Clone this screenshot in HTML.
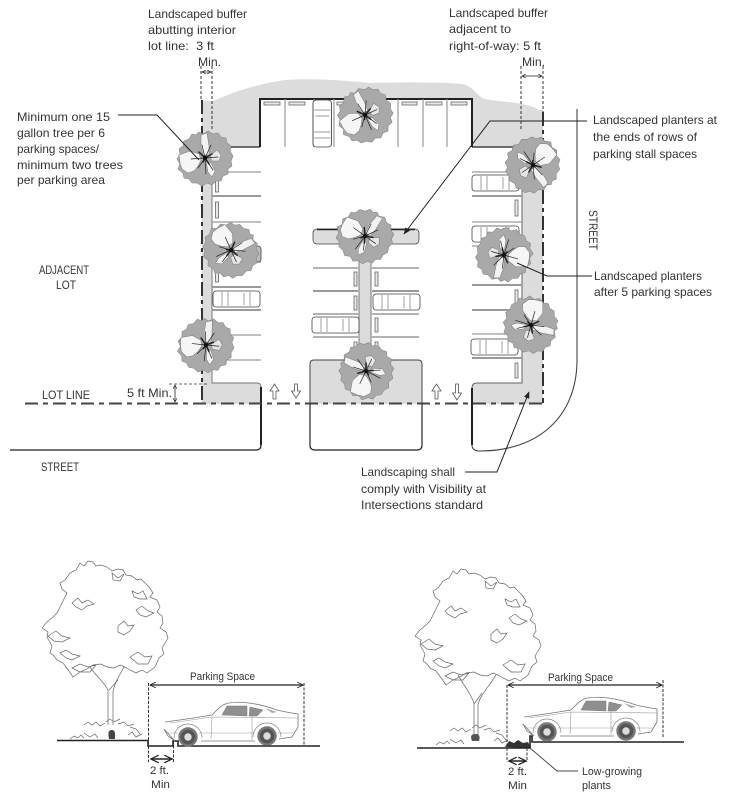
<!DOCTYPE html>
<html><head><meta charset="utf-8"><style>
html,body{margin:0;padding:0;background:#fff}
svg{display:block;filter:blur(.3px)}
text{font-family:"Liberation Sans",sans-serif;font-size:12px;fill:#333}
</style></head><body>
<svg width="731" height="803" viewBox="0 0 731 803" xmlns="http://www.w3.org/2000/svg">
<defs>
<marker id="ah" viewBox="0 0 10 10" refX="9" refY="5" markerWidth="7" markerHeight="7" orient="auto-start-reverse"><path d="M0 1L10 5L0 9Z" fill="#222"/></marker>
<marker id="oa" viewBox="0 0 10 10" refX="9" refY="5" markerWidth="6" markerHeight="6" orient="auto-start-reverse"><path d="M1 1L9 5L1 9" fill="none" stroke="#222" stroke-width="1.3"/></marker>
<g id="tree">
<path d="M-6-26L-2-24L3-27L8-24L13-25L16-21L21-20L22-15L26-12L25-7L28-2L26 3L27 8L23 11L23 16L18 18L16 23L11 23L7 27L2 25L-3 28L-8 25L-13 25L-16 21L-21 20L-22 15L-27 11L-25 6L-28 1L-25-4L-26-9L-22-12L-21-17L-16-19L-13-24L-9-23Z" fill="#a9a9a9" stroke="#888" stroke-width=".6"/>
<path d="M-26-3L-15-7L-6-4L-4 2L-7 8L-11 13L-17 15L-23 11L-25 5Z" fill="#f6f6f6" stroke="#777" stroke-width=".5"/>
<path d="M-4-23L2-25L4-12L4-3L-2-3L-4-12Z" fill="#f2f2f2" stroke="#777" stroke-width=".5"/>
<path d="M5-2L12-8L16-3L14 3L7 3Z" fill="#e6e6e6" stroke="#777" stroke-width=".5"/>
<path d="M1 3L6 5L10 13L7 19L3 14Z" fill="#f4f4f4" stroke="#777" stroke-width=".5"/>
<g fill="none" stroke="#222" stroke-linecap="round">
<path d="M-6-6L0 0L7-4M-2 4L0 0L4 6" stroke-width="1.5"/>
<path d="M0 0L-3-13M0 0L6-13M0 0L13-1M0 0L-14 1M0 0L-7 10M0 0L8 12M0 0L1 16" stroke-width=".7"/>
</g>
<circle r="2.2" fill="#111"/>
</g>
<g id="carh" fill="#fff" stroke="#444" stroke-width=".8">
<rect x="0" y="0" width="47" height="16" rx="3"/>
<path d="M9 1V15M15 1V15M31 2V14M37 1V15" fill="none" stroke="#777" stroke-width=".7"/>
</g>
<g id="crown" fill="none" stroke="#666" stroke-width=".7">
<path d="M80 563L84 566L88 561L93 562L96 566L101 565L107 567L112 571L118 569L123 570L126 575L132 576L137 580L141 579L145 583L149 587L153 593L150 597L157 600L160 607L157 612L162 616L163 623L160 628L166 632L168 638L165 643L162 648L164 654L159 658L155 667L151 670L147 673L142 670L136 673L130 670L125 667L120 665L114 668L107 667L101 664L93 665L87 669L80 672L73 677L69 671L63 663L57 660L54 656L50 653L52 646L47 637L48 632L42 628L47 622L53 617L57 613L60 607L63 601L67 593L62 589L60 583L65 580L70 573L76 570Z"/>
<path d="M72 603L78 598L82 603L88 600L94 604L87 606L82 610L76 607ZM112 573L118 578L124 574L120 581L113 580ZM132 591L138 594L143 591L147 599L140 599L134 597ZM136 610L142 606L148 611L154 613L146 617L140 615ZM118 626L124 621L128 626L134 625L130 631L124 635L118 632ZM48 636L56 631L62 636L70 638L62 642L54 641ZM60 653L66 650L72 654L80 656L72 660L66 658ZM72 668L80 664L88 667L96 665L90 672L80 672ZM130 657L138 652L145 657L152 656L148 664L138 664Z"/>
</g>
<g id="car">
<path d="M165 722C180 720 200 717 212 715C218 709 222 704 229 703C240 701 258 703 277 710C285 712 292 713 298 714L298 727L292 737L279 739M255 741H201M175 741L168 736L164 729Z" fill="none" stroke="#777" stroke-width=".8"/>
<path d="M170 723L212 717L298 718M212 717L211 739M168 733L178 733M199 733H255M252 716V740M278 733H294" fill="none" stroke="#999" stroke-width=".6"/>
<path d="M222 715L227 706L247 706L247 716ZM249 716L250 707L263 710L257 716Z" fill="#8f8f8f" stroke="#777" stroke-width=".5"/>
<path d="M265 708L277 712L272 713Z" fill="#aaa"/>
<path d="M174 738A14 14 0 0 1 202 738M253 737A14 14 0 0 1 281 737" fill="none" stroke="#888" stroke-width=".7"/>
<circle cx="188" cy="737" r="8.500" fill="#555" stroke="#777" stroke-width="2.400"/><circle cx="188" cy="737" r="3.700" fill="#ddd"/>
<circle cx="267" cy="736" r="8.500" fill="#555" stroke="#777" stroke-width="2.400"/><circle cx="267" cy="736" r="3.700" fill="#ddd"/>
</g>
<g id="shrubs" fill="none" stroke="#666" stroke-width=".7">
<path d="M70 739L74 736L78 738L81 735L84 738M84 733L90 737L95 734L98 738M84 725L88 722L92 725L96 722L100 726L105 723M106 722L110 719L114 722L120 719M118 724L124 722L128 726L134 724M128 735L132 732L136 737L142 734M130 727L136 729L140 734"/>
</g>
</defs>
<rect width="731" height="803" fill="#fff"/>

<!-- gray planting areas -->
<path d="M202 101L213 101L235 92C255 86 265 83 285 80C310 78 340 80 370 83C400 82 440 82 462 84C472 86 475 92 482 98C495 103 530 100 543 113L543 147H472V99H260V147H202Z" fill="#dcdcdc"/>
<rect x="202" y="110" width="10" height="294" fill="#dcdcdc"/>
<rect x="522" y="110" width="21" height="294" fill="#dcdcdc"/>
<path d="M202 383H257Q261 383 261 387V404H202Z" fill="#dcdcdc"/>
<path d="M522 147V383H477Q472 383 472 388V404H543V147Z" fill="#dcdcdc"/>
<path d="M314 360H418Q422 360 422 364V404H310V364Q310 360 314 360Z" fill="#dcdcdc"/>
<rect x="359" y="243" width="12" height="120" fill="#dcdcdc"/>
<rect x="313" y="229" width="106" height="15" rx="4" fill="#dcdcdc" stroke="#444" stroke-width=".8"/>
<path d="M317 229.500H415" stroke="#222" stroke-width="1.600"/>
<path d="M359 243V360M371 243V360" stroke="#777" stroke-width="1"/>

<!-- boundary lines -->
<path d="M260 147V99H472V147" fill="none" stroke="#222" stroke-width="2"/>
<path d="M229 147H260M472 147H515" stroke="#222" stroke-width="1.200"/>
<path d="M212 147V383H257Q261 383 261 387" fill="none" stroke="#777" stroke-width="1"/>
<path d="M522 147V383H477Q472 383 472 388" fill="none" stroke="#666" stroke-width="1"/>
<path d="M310 404V364Q310 360 314 360H418Q422 360 422 364V404" fill="none" stroke="#444" stroke-width="1"/>
<path d="M261 387V445" stroke="#222" stroke-width="2"/>
<path d="M472 388V445" stroke="#222" stroke-width="2"/>
<path d="M310 404V445Q310 450 315 450H417Q422 450 422 445V404" fill="none" stroke="#222" stroke-width="1.200"/>
<path d="M10 450H256Q261 450 261 445" fill="none" stroke="#222" stroke-width="1.200"/>
<path d="M472 445Q472 451 480 451C540 451 577 415 577 360V109" fill="none" stroke="#444" stroke-width="1.100"/>

<!-- lot line / buffer lines -->
<path d="M25 403.500H543" stroke="#444" stroke-width="2" stroke-dasharray="13 5 5 5"/>
<path d="M202 100V403" stroke="#333" stroke-width="2" stroke-dasharray="14 4 4 4"/>
<path d="M543 112V403" stroke="#333" stroke-width="2" stroke-dasharray="14 4 4 4"/>
<path d="M201 66V100M212 66V130M521 66V130M543 66V112" stroke="#333" stroke-width="1" stroke-dasharray="3 2" fill="none"/>
<path d="M202 72H211" stroke="#222" stroke-width=".8" marker-start="url(#oa)" marker-end="url(#oa)"/>
<path d="M522 76H542" stroke="#222" stroke-width=".8" marker-start="url(#oa)" marker-end="url(#oa)"/>

<!-- stall lines -->
<g stroke="#9a9a9a" fill="none">
<path d="M285 99V147M314 99V147M334 99V147M398 99V147M423 99V147M447 99V147" stroke-width="1.200"/>
<path d="M212 172H261M212 222H261M212 262H261M212 335H261M212 360H261" stroke-width="1.200"/>
<path d="M212 196H261M212 287H261M212 310H261" stroke-width="2"/>
<path d="M313 268H358M372 268H419M313 314H358M372 314H419M313 337H358M372 337H419" stroke-width="1.400"/>
<path d="M313 291H358M372 291H419" stroke-width="2"/>
<path d="M472 172H522M472 222H522M472 246H522M472 334H522" stroke-width="1.200"/>
<path d="M472 196H522M472 285H522M472 310H522M472 358H522" stroke-width="2"/>
</g>
<!-- wheel stops -->
<g fill="#e8e8e8" stroke="#666" stroke-width=".8">
<rect x="264" y="102" width="16" height="3"/><rect x="289" y="102" width="16" height="3"/><rect x="337" y="102" width="16" height="3"/><rect x="402" y="102" width="15" height="3"/><rect x="426" y="102" width="16" height="3"/><rect x="451" y="102" width="16" height="3"/>
<rect x="215.500" y="202" width="3" height="16"/><rect x="215.500" y="178" width="3" height="14"/><rect x="215.500" y="268" width="3" height="14"/><rect x="215.500" y="342" width="3" height="20"/>
<rect x="354" y="272" width="3" height="14"/><rect x="354" y="296" width="3" height="14"/><rect x="354" y="342" width="3" height="14"/>
<rect x="375" y="272" width="3" height="14"/><rect x="375" y="318" width="3" height="14"/><rect x="375" y="342" width="3" height="14"/>
<rect x="515" y="200" width="3" height="16"/><rect x="515" y="290" width="3" height="14"/><rect x="515" y="363" width="3" height="15"/>
</g>
<!-- cars -->
<use href="#carh" transform="translate(313,147) rotate(-90) scale(1,1.150)"/>
<use href="#carh" transform="translate(213,291)"/>
<use href="#carh" x="312" y="317"/>
<use href="#carh" x="373" y="294"/>
<use href="#carh" x="472" y="175"/>
<use href="#carh" x="472" y="226"/>
<use href="#carh" x="471" y="339"/>
<rect x="253" y="246" width="8" height="16" rx="3" fill="#bbb" stroke="#444" stroke-width=".8"/>

<!-- arrows -->
<g fill="#fff" stroke="#555" stroke-width=".8">
<path d="M270 391L274.500 384L279 391H276V399H273V391Z"/>
<path d="M291.500 391L296 398L300.500 391H297.500V384H294.500V391Z"/>
<path d="M432 391L436.500 384L441 391H438V399H435V391Z"/>
<path d="M452.500 393L457 400L461.500 393H458.500V384H455.500V393Z"/>
</g>
<!-- 5ft dim -->
<path d="M169 384H207" stroke="#333" stroke-dasharray="3 2" stroke-width=".8"/>
<path d="M175 385V402" stroke="#222" stroke-width=".8" marker-start="url(#oa)" marker-end="url(#oa)"/>

<!-- trees -->
<use href="#tree" transform="translate(205,158)"/>
<use href="#tree" transform="translate(231,250) rotate(70)"/>
<use href="#tree" transform="translate(206,345) rotate(10)"/>
<use href="#tree" transform="translate(365,115) rotate(-20)"/>
<use href="#tree" transform="translate(365,236) rotate(40)"/>
<use href="#tree" transform="translate(366,371) rotate(-60)"/>
<use href="#tree" transform="translate(533,165) rotate(150)"/>
<use href="#tree" transform="translate(504,255) rotate(200)"/>
<use href="#tree" transform="translate(531,325) rotate(110)"/>

<!-- leaders -->
<g fill="none" stroke="#222" stroke-width="1">
<path d="M118 115H157L199 160"/>
<path d="M587 121H490L404 234" marker-end="url(#ah)"/>
<path d="M592 276H547L517 263"/>
<path d="M465 472H497L529 392" marker-end="url(#ah)"/>
</g>

<!-- lower left -->
<use href="#crown"/>
<path d="M108 725V690C104 682 96 676 90 667M113 725V692C114 684 118 678 124 667M109 690L118 680" fill="none" stroke="#777" stroke-width=".8"/>
<use href="#shrubs"/>
<path d="M109 739C108 733 108 730 112 730C116 730 115 736 115 739Z" fill="#444"/>
<path d="M57 740.500H148V746H173V741H178V746H320" fill="none" stroke="#222" stroke-width="1.600"/>
<path d="M148.500 683V762M173.500 741V762M304 683V746" stroke="#333" stroke-width="1" stroke-dasharray="3 1.500" fill="none"/>
<path d="M150 685H303" stroke="#222" stroke-width="1.200" marker-start="url(#oa)" marker-end="url(#oa)"/>
<path d="M151 759H172" stroke="#222" stroke-width="1.600" marker-start="url(#oa)" marker-end="url(#oa)"/>
<use href="#car"/>

<!-- lower right -->
<use href="#crown" transform="translate(373,8)"/>
<path d="M474 737V703C470 692 464 686 458 675M478 737V705C480 695 488 688 496 675M474 704L482 693" fill="none" stroke="#777" stroke-width=".8"/>
<use href="#shrubs" transform="translate(366,6)"/>
<path d="M472 741C470 736 471 734 476 734C480 734 480 738 479 741Z" fill="#555"/>
<path d="M505 747L509 741L514 743L518 740L523 743L528 742L531 748Z" fill="#333"/>
<path d="M417 748H530V736H532V742H684" fill="none" stroke="#222" stroke-width="1.600"/>
<path d="M507 685V762M527 748V762M663 680V738" stroke="#333" stroke-width="1" stroke-dasharray="3 1.500" fill="none"/>
<path d="M508 685H662" stroke="#222" stroke-width="1.200" marker-start="url(#oa)" marker-end="url(#oa)"/>
<path d="M509 761H526" stroke="#222" stroke-width="1.600" marker-start="url(#oa)" marker-end="url(#oa)"/>
<use href="#car" transform="translate(359,-5)"/>
<path d="M530 748L557 771H578" fill="none" stroke="#444" stroke-width=".9"/>

<!-- text -->
<text x="148" y="18" textLength="99" lengthAdjust="spacingAndGlyphs">Landscaped buffer</text>
<text x="148" y="34" textLength="88" lengthAdjust="spacingAndGlyphs">abutting interior</text>
<text x="148" y="50" textLength="66" lengthAdjust="spacingAndGlyphs" xml:space="preserve">lot line:  3 ft</text>
<text x="198" y="66" textLength="23" lengthAdjust="spacingAndGlyphs">Min.</text>
<text x="449" y="17" textLength="99" lengthAdjust="spacingAndGlyphs">Landscaped buffer</text>
<text x="449" y="33" textLength="62" lengthAdjust="spacingAndGlyphs">adjacent to</text>
<text x="449" y="50" textLength="92" lengthAdjust="spacingAndGlyphs">right-of-way: 5 ft</text>
<text x="522" y="66" textLength="23" lengthAdjust="spacingAndGlyphs">Min.</text>
<text x="17" y="121" textLength="93" lengthAdjust="spacingAndGlyphs">Minimum one 15</text>
<text x="17" y="137" textLength="88" lengthAdjust="spacingAndGlyphs">gallon tree per 6</text>
<text x="17" y="153" textLength="82" lengthAdjust="spacingAndGlyphs">parking spaces/</text>
<text x="17" y="169" textLength="106" lengthAdjust="spacingAndGlyphs">minimum two trees</text>
<text x="17" y="184" textLength="88" lengthAdjust="spacingAndGlyphs">per parking area</text>
<text x="593" y="124" textLength="124" lengthAdjust="spacingAndGlyphs">Landscaped planters at</text>
<text x="593" y="141" textLength="104" lengthAdjust="spacingAndGlyphs">the ends of rows of</text>
<text x="593" y="158" textLength="104" lengthAdjust="spacingAndGlyphs">parking stall spaces</text>
<text x="594" y="280" textLength="108" lengthAdjust="spacingAndGlyphs">Landscaped planters</text>
<text x="594" y="296" textLength="118" lengthAdjust="spacingAndGlyphs">after 5 parking spaces</text>
<text x="39" y="274" textLength="50" lengthAdjust="spacingAndGlyphs">ADJACENT</text>
<text x="56" y="289" textLength="20" lengthAdjust="spacingAndGlyphs">LOT</text>
<text x="42" y="399" textLength="48" lengthAdjust="spacingAndGlyphs">LOT LINE</text>
<text x="127" y="397" textLength="45" lengthAdjust="spacingAndGlyphs">5 ft Min.</text>
<text x="41" y="471" textLength="38" lengthAdjust="spacingAndGlyphs">STREET</text>
<text transform="translate(589,210) rotate(90)" textLength="40" lengthAdjust="spacingAndGlyphs">STREET</text>
<text x="361" y="476" textLength="94" lengthAdjust="spacingAndGlyphs">Landscaping shall</text>
<text x="361" y="493" textLength="125" lengthAdjust="spacingAndGlyphs">comply with Visibility at</text>
<text x="361" y="509" textLength="122" lengthAdjust="spacingAndGlyphs">Intersections standard</text>
<text x="190" y="680" textLength="65" lengthAdjust="spacingAndGlyphs" style="font-size:11px">Parking Space</text>
<text x="150" y="774" textLength="19" lengthAdjust="spacingAndGlyphs" style="font-size:11px">2 ft.</text>
<text x="151" y="788" textLength="19" lengthAdjust="spacingAndGlyphs" style="font-size:11px">Min</text>
<text x="548" y="681" textLength="65" lengthAdjust="spacingAndGlyphs" style="font-size:11px">Parking Space</text>
<text x="508" y="775" textLength="19" lengthAdjust="spacingAndGlyphs" style="font-size:11px">2 ft.</text>
<text x="508" y="789" textLength="19" lengthAdjust="spacingAndGlyphs" style="font-size:11px">Min</text>
<text x="582" y="775" textLength="60" lengthAdjust="spacingAndGlyphs" style="font-size:11px">Low-growing</text>
<text x="582" y="789" textLength="29" lengthAdjust="spacingAndGlyphs" style="font-size:11px">plants</text>
</svg>
</body></html>
